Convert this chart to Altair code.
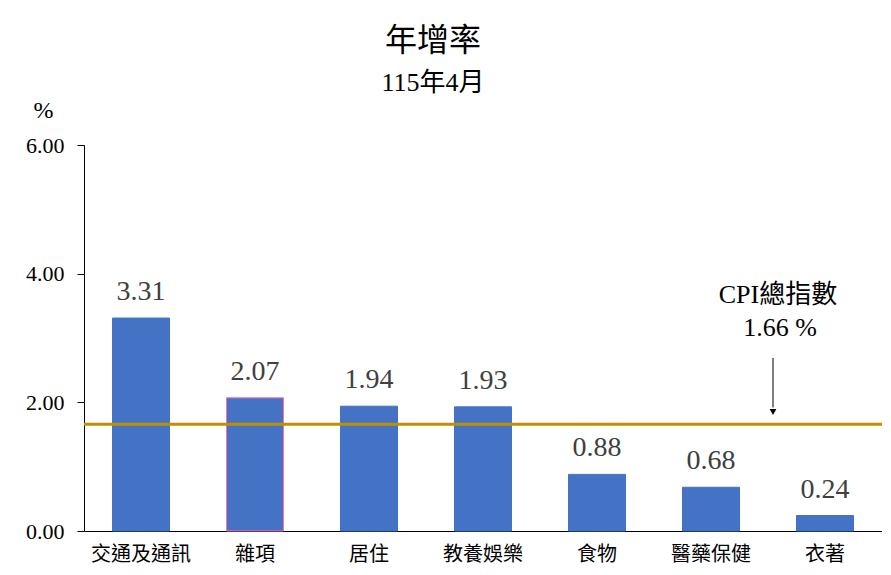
import altair as alt
import pandas as pd

categories = ["交通及通訊", "雜項", "居住", "教養娛樂", "食物", "醫藥保健", "衣著"]
values = [3.31, 2.07, 1.94, 1.93, 0.88, 0.68, 0.24]
cpi_total = 1.66
y_ticks = [0, 2, 4, 6]

SERIF = "Liberation Serif, Noto Sans CJK TC, serif"

df = pd.DataFrame({"cat": categories, "val": values})
df["label"] = df["val"].map(lambda v: f"{v:.2f}")
df["hl"] = df["cat"] == "雜項"

x = alt.X("cat:N", sort=categories,
          scale=alt.Scale(paddingInner=0.5, paddingOuter=0.25),
          axis=alt.Axis(title=None, labelAngle=0, ticks=False, domainColor="#000",
                        labelFont=SERIF, labelFontSize=20, labelColor="#000",
                        labelPadding=13))
y = alt.Y("val:Q", scale=alt.Scale(domain=[0, 6]),
          axis=alt.Axis(values=y_ticks, format=".2f", grid=False, title="%",
                        titleAngle=0, titleX=-41, titleY=-28, titleAlign="center",
                        titleBaseline="alphabetic", titleFont=SERIF, titleFontSize=24,
                        titleFontWeight="normal", titleColor="#000",
                        labelFont=SERIF, labelFontSize=22, labelColor="#000",
                        labelPadding=13, tickSize=7, tickColor="#000",
                        domainColor="#000"))

bars = alt.Chart(df).mark_bar(color="#4472C4").encode(
    x=x, y=y,
    stroke=alt.condition("datum.hl", alt.value("#FF6FA8"), alt.value("#4472C4")),
    strokeWidth=alt.value(1),
)
labels = alt.Chart(df).mark_text(baseline="bottom", dy=-12, font=SERIF,
                                 fontSize=28, color="#404040").encode(
    x=alt.X("cat:N", sort=categories), y="val:Q", text="label:N")

cpi_df = pd.DataFrame({"v": [cpi_total]})
cpi_line = alt.Chart(cpi_df).mark_rule(color="#BF9000", strokeWidth=3).encode(y="v:Q")

ann = pd.DataFrame({"y1": [2.69], "y2": [1.92], "tip": [1.85],
                    "t1": ["CPI總指數"], "t2": [f"{cpi_total:.2f} %"],
                    "ty1": [3.67], "ty2": [3.15]})
arrow = alt.Chart(ann).mark_rule(color="#000", strokeWidth=1).encode(
    x=alt.value(689), y="y1:Q", y2="y2:Q")
head = alt.Chart(ann).mark_point(shape="triangle-down", filled=True, color="#000",
                                 size=45, opacity=1).encode(
    x=alt.value(689), y="tip:Q")
txt1 = alt.Chart(ann).mark_text(font=SERIF, fontSize=26, color="#000",
                                baseline="middle").encode(
    x=alt.value(694), y="ty1:Q", text="t1:N")
txt2 = alt.Chart(ann).mark_text(font=SERIF, fontSize=26, color="#000",
                                baseline="middle").encode(
    x=alt.value(696), y="ty2:Q", text="t2:N")

chart = alt.layer(bars, labels, cpi_line, arrow, head, txt1, txt2).properties(
    width=798, height=386,
    autosize=alt.AutoSizeParams(type="none"),
    padding={"left": 76, "right": 0, "top": 137, "bottom": 36},
    title=alt.TitleParams(text="年增率", subtitle="115年4月", anchor="middle",
                          font=SERIF, fontSize=32, fontWeight="normal", color="#000",
                          subtitleFont=SERIF, subtitleFontSize=26, subtitleColor="#000",
                          subtitlePadding=12, offset=1, dx=-50),
).configure_view(stroke=None)

chart.save("out.html", embed_options={"renderer": "svg", "actions": False})
